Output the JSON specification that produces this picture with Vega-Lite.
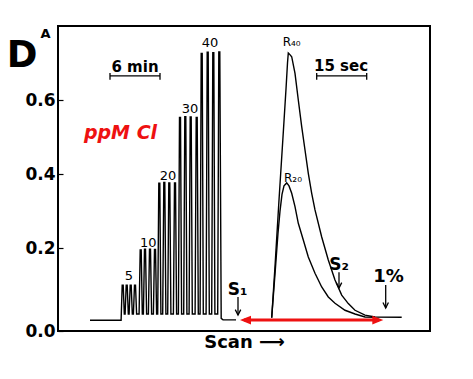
{
  "$schema": "https://vega.github.io/schema/vega-lite/v6.json",
  "width": 372,
  "height": 305,
  "autosize": {"type": "none"},
  "padding": {"left": 58, "top": 26, "right": 43, "bottom": 48},
  "background": "white",
  "config": {
    "view": {"stroke": "black", "strokeWidth": 2},
    "font": "DejaVu Sans"
  },
  "datasets": {
    "curves": [
      {"series": "calib", "x": 32, "y": 0.005},
      {"series": "calib", "x": 63.1, "y": 0.005},
      {"series": "calib", "x": 64.2, "y": 0.1},
      {"series": "calib", "x": 65.2, "y": 0.1},
      {"series": "calib", "x": 66.3, "y": 0.022},
      {"series": "calib", "x": 67.1, "y": 0.022},
      {"series": "calib", "x": 68.2, "y": 0.1},
      {"series": "calib", "x": 69.2, "y": 0.1},
      {"series": "calib", "x": 70.3, "y": 0.022},
      {"series": "calib", "x": 71.1, "y": 0.022},
      {"series": "calib", "x": 72.2, "y": 0.1},
      {"series": "calib", "x": 73.2, "y": 0.1},
      {"series": "calib", "x": 74.3, "y": 0.022},
      {"series": "calib", "x": 75.4, "y": 0.022},
      {"series": "calib", "x": 76.5, "y": 0.1},
      {"series": "calib", "x": 77.5, "y": 0.1},
      {"series": "calib", "x": 78.6, "y": 0.022},
      {"series": "calib", "x": 81.1, "y": 0.022},
      {"series": "calib", "x": 82.2, "y": 0.195},
      {"series": "calib", "x": 83.2, "y": 0.195},
      {"series": "calib", "x": 84.3, "y": 0.022},
      {"series": "calib", "x": 85.4, "y": 0.022},
      {"series": "calib", "x": 86.5, "y": 0.197},
      {"series": "calib", "x": 87.5, "y": 0.197},
      {"series": "calib", "x": 88.6, "y": 0.022},
      {"series": "calib", "x": 90.4, "y": 0.022},
      {"series": "calib", "x": 91.5, "y": 0.197},
      {"series": "calib", "x": 92.5, "y": 0.197},
      {"series": "calib", "x": 93.6, "y": 0.022},
      {"series": "calib", "x": 95.4, "y": 0.022},
      {"series": "calib", "x": 96.5, "y": 0.196},
      {"series": "calib", "x": 97.5, "y": 0.196},
      {"series": "calib", "x": 98.6, "y": 0.022},
      {"series": "calib", "x": 99.7, "y": 0.022},
      {"series": "calib", "x": 100.8, "y": 0.375},
      {"series": "calib", "x": 101.8, "y": 0.375},
      {"series": "calib", "x": 102.9, "y": 0.022},
      {"series": "calib", "x": 104.7, "y": 0.022},
      {"series": "calib", "x": 105.8, "y": 0.377},
      {"series": "calib", "x": 106.8, "y": 0.377},
      {"series": "calib", "x": 107.9, "y": 0.022},
      {"series": "calib", "x": 109.7, "y": 0.022},
      {"series": "calib", "x": 110.8, "y": 0.376},
      {"series": "calib", "x": 111.8, "y": 0.376},
      {"series": "calib", "x": 112.9, "y": 0.022},
      {"series": "calib", "x": 115.4, "y": 0.022},
      {"series": "calib", "x": 116.5, "y": 0.376},
      {"series": "calib", "x": 117.5, "y": 0.376},
      {"series": "calib", "x": 118.6, "y": 0.022},
      {"series": "calib", "x": 120.4, "y": 0.022},
      {"series": "calib", "x": 121.5, "y": 0.553},
      {"series": "calib", "x": 122.5, "y": 0.553},
      {"series": "calib", "x": 123.6, "y": 0.022},
      {"series": "calib", "x": 125.7, "y": 0.022},
      {"series": "calib", "x": 126.8, "y": 0.555},
      {"series": "calib", "x": 127.8, "y": 0.555},
      {"series": "calib", "x": 128.9, "y": 0.022},
      {"series": "calib", "x": 131.1, "y": 0.022},
      {"series": "calib", "x": 132.2, "y": 0.554},
      {"series": "calib", "x": 133.2, "y": 0.554},
      {"series": "calib", "x": 134.3, "y": 0.022},
      {"series": "calib", "x": 137.1, "y": 0.022},
      {"series": "calib", "x": 138.2, "y": 0.553},
      {"series": "calib", "x": 139.2, "y": 0.553},
      {"series": "calib", "x": 140.3, "y": 0.022},
      {"series": "calib", "x": 142.1, "y": 0.022},
      {"series": "calib", "x": 143.2, "y": 0.726},
      {"series": "calib", "x": 144.2, "y": 0.726},
      {"series": "calib", "x": 145.3, "y": 0.022},
      {"series": "calib", "x": 148.1, "y": 0.022},
      {"series": "calib", "x": 149.2, "y": 0.729},
      {"series": "calib", "x": 150.2, "y": 0.729},
      {"series": "calib", "x": 151.3, "y": 0.022},
      {"series": "calib", "x": 153.7, "y": 0.022},
      {"series": "calib", "x": 154.8, "y": 0.728},
      {"series": "calib", "x": 155.8, "y": 0.728},
      {"series": "calib", "x": 156.9, "y": 0.022},
      {"series": "calib", "x": 159.7, "y": 0.022},
      {"series": "calib", "x": 160.8, "y": 0.73},
      {"series": "calib", "x": 161.8, "y": 0.73},
      {"series": "calib", "x": 163.2, "y": 0.01},
      {"series": "calib", "x": 165, "y": 0.006},
      {"series": "calib", "x": 178, "y": 0.006},
      {"series": "R40", "x": 213.7, "y": 0.012},
      {"series": "R40", "x": 217, "y": 0.15},
      {"series": "R40", "x": 221, "y": 0.33},
      {"series": "R40", "x": 225, "y": 0.5},
      {"series": "R40", "x": 228, "y": 0.63},
      {"series": "R40", "x": 229.5, "y": 0.7},
      {"series": "R40", "x": 230.3, "y": 0.727},
      {"series": "R40", "x": 231.5, "y": 0.724},
      {"series": "R40", "x": 233.7, "y": 0.717},
      {"series": "R40", "x": 237, "y": 0.672},
      {"series": "R40", "x": 240.3, "y": 0.6},
      {"series": "R40", "x": 243.7, "y": 0.528},
      {"series": "R40", "x": 247, "y": 0.465},
      {"series": "R40", "x": 250.3, "y": 0.402},
      {"series": "R40", "x": 253.7, "y": 0.348},
      {"series": "R40", "x": 257, "y": 0.303},
      {"series": "R40", "x": 263.7, "y": 0.23},
      {"series": "R40", "x": 270.3, "y": 0.168},
      {"series": "R40", "x": 277, "y": 0.114},
      {"series": "R40", "x": 283.7, "y": 0.073},
      {"series": "R40", "x": 290.3, "y": 0.05},
      {"series": "R40", "x": 297, "y": 0.032},
      {"series": "R40", "x": 307, "y": 0.019},
      {"series": "R40", "x": 317, "y": 0.014},
      {"series": "R40", "x": 343.7, "y": 0.013},
      {"series": "R20", "x": 213.7, "y": 0.012},
      {"series": "R20", "x": 217, "y": 0.13},
      {"series": "R20", "x": 220, "y": 0.24},
      {"series": "R20", "x": 222, "y": 0.3},
      {"series": "R20", "x": 224, "y": 0.345},
      {"series": "R20", "x": 226, "y": 0.368},
      {"series": "R20", "x": 228.7, "y": 0.376},
      {"series": "R20", "x": 231, "y": 0.368},
      {"series": "R20", "x": 233.7, "y": 0.348},
      {"series": "R20", "x": 237, "y": 0.312},
      {"series": "R20", "x": 240.3, "y": 0.267},
      {"series": "R20", "x": 245.3, "y": 0.222},
      {"series": "R20", "x": 250.3, "y": 0.176},
      {"series": "R20", "x": 257, "y": 0.132},
      {"series": "R20", "x": 263.7, "y": 0.095},
      {"series": "R20", "x": 270.3, "y": 0.068},
      {"series": "R20", "x": 277, "y": 0.051},
      {"series": "R20", "x": 287, "y": 0.032},
      {"series": "R20", "x": 297, "y": 0.022},
      {"series": "R20", "x": 307, "y": 0.014},
      {"series": "R20", "x": 317, "y": 0.013}
    ],
    "rules": [
      {"x": 52, "x2": 102, "y": 0.665, "y2": 0.665},
      {"x": 52, "x2": 52, "y": 0.673, "y2": 0.655},
      {"x": 102, "x2": 102, "y": 0.673, "y2": 0.655},
      {"x": 258.7, "x2": 308.7, "y": 0.665, "y2": 0.665},
      {"x": 258.7, "x2": 258.7, "y": 0.673, "y2": 0.655},
      {"x": 308.7, "x2": 308.7, "y": 0.673, "y2": 0.655},
      {"x": 180, "x2": 180, "y": 0.068, "y2": 0.019},
      {"x": 281, "x2": 281, "y": 0.135, "y2": 0.092},
      {"x": 327.7, "x2": 327.7, "y": 0.1, "y2": 0.038}
    ],
    "heads": [
      {"x": 180, "y": 0.019},
      {"x": 281, "y": 0.092},
      {"x": 327.7, "y": 0.038}
    ],
    "redheads": [
      {"x": 182, "y": 0.0054, "dir": "left"},
      {"x": 325.3, "y": 0.0054, "dir": "right"}
    ],
    "numlabels": [
      {"x": 71, "y": 0.114, "t": "5", "s": 13},
      {"x": 90.3, "y": 0.203, "t": "10", "s": 13},
      {"x": 110, "y": 0.384, "t": "20", "s": 13},
      {"x": 132, "y": 0.565, "t": "30", "s": 13},
      {"x": 152, "y": 0.743, "t": "40", "s": 13},
      {"x": 233.7, "y": 0.746, "t": "R₄₀", "s": 12},
      {"x": 235, "y": 0.378, "t": "R₂₀", "s": 12}
    ],
    "boldlabels": [
      {"x": 77, "y": 0.676, "t": "6 min", "s": 15},
      {"x": 283, "y": 0.678, "t": "15 sec", "s": 15},
      {"x": 179.5, "y": 0.073, "t": "S₁", "s": 17},
      {"x": 281, "y": 0.141, "t": "S₂", "s": 17},
      {"x": 330.5, "y": 0.108, "t": "1%", "s": 18},
      {"x": -36, "y": 0.689, "t": "D", "s": 37}
    ],
    "redlabels": [
      {"x": 62.5, "y": 0.495, "t": "ppM Cl"}
    ]
  },
  "layer": [
    {
      "data": {"name": "curves"},
      "mark": {"type": "line", "color": "black", "strokeWidth": 1.4},
      "encoding": {
        "x": {
          "field": "x", "type": "quantitative",
          "scale": {"domain": [0, 372], "nice": false, "zero": false},
          "axis": {"labels": false, "ticks": false, "domain": false, "grid": false,
                   "title": "Scan ⟶", "titleFont": "DejaVu Sans", "titleFontSize": 18,
                   "titleFontWeight": "bold", "titleColor": "black", "titlePadding": 2}
        },
        "y": {
          "field": "y", "type": "quantitative",
          "scale": {"domain": [-0.024, 0.8], "nice": false, "zero": false},
          "axis": {
            "values": [-0.024, 0.2, 0.4, 0.6],
            "labelExpr": "datum.value < 0 ? '0.0' : format(datum.value, '.1f')",
            "labelFont": "DejaVu Sans", "labelFontSize": 17, "labelFontWeight": "bold",
            "labelColor": "black", "grid": false, "domain": false,
            "ticks": true, "tickSize": -5, "tickColor": "black", "tickWidth": 1.2,
            "labelPadding": 8,
            "title": "A", "titleAngle": 0, "titleX": -13, "titleY": 11,
            "titleAlign": "center", "titleBaseline": "alphabetic",
            "titleFont": "DejaVu Sans", "titleFontSize": 13, "titleFontWeight": "bold", "titleColor": "black"
          }
        },
        "detail": {"field": "series", "type": "nominal"}
      }
    },
    {
      "data": {"name": "rules"},
      "mark": {"type": "rule", "color": "black", "strokeWidth": 1.3},
      "encoding": {
        "x": {"field": "x", "type": "quantitative"},
        "x2": {"field": "x2"},
        "y": {"field": "y", "type": "quantitative"},
        "y2": {"field": "y2"}
      }
    },
    {
      "data": {"name": "heads"},
      "mark": {"type": "point", "shape": "M -1 -2 L 0 0 L 1 -2", "size": 30, "filled": false, "stroke": "black", "strokeWidth": 1.3, "opacity": 1},
      "encoding": {
        "x": {"field": "x", "type": "quantitative"},
        "y": {"field": "y", "type": "quantitative"}
      }
    },
    {
      "data": {"values": [{"x": 186, "x2": 321, "y": 0.0054}]},
      "mark": {"type": "rule", "color": "#ee1111", "strokeWidth": 3},
      "encoding": {
        "x": {"field": "x", "type": "quantitative"},
        "x2": {"field": "x2"},
        "y": {"field": "y", "type": "quantitative"}
      }
    },
    {
      "data": {"name": "redheads"},
      "mark": {"type": "point", "filled": true, "size": 121, "color": "#ee1111", "opacity": 1},
      "encoding": {
        "x": {"field": "x", "type": "quantitative"},
        "y": {"field": "y", "type": "quantitative"},
        "shape": {"field": "dir", "type": "nominal", "legend": null,
                  "scale": {"domain": ["left", "right"], "range": ["M 0 0 L 2 -0.8 L 2 0.8 Z", "M 0 0 L -2 -0.8 L -2 0.8 Z"]}}
      }
    },
    {
      "data": {"name": "numlabels"},
      "mark": {"type": "text", "font": "DejaVu Sans", "color": "black", "align": "center", "baseline": "alphabetic"},
      "encoding": {
        "x": {"field": "x", "type": "quantitative"},
        "y": {"field": "y", "type": "quantitative"},
        "text": {"field": "t"},
        "size": {"field": "s", "type": "quantitative", "scale": null}
      }
    },
    {
      "data": {"name": "boldlabels"},
      "mark": {"type": "text", "font": "DejaVu Sans", "fontWeight": "bold", "color": "black", "align": "center", "baseline": "alphabetic"},
      "encoding": {
        "x": {"field": "x", "type": "quantitative"},
        "y": {"field": "y", "type": "quantitative"},
        "text": {"field": "t"},
        "size": {"field": "s", "type": "quantitative", "scale": null}
      }
    },
    {
      "data": {"name": "redlabels"},
      "mark": {"type": "text", "font": "DejaVu Sans", "fontWeight": "bold", "fontStyle": "italic", "fontSize": 19, "color": "#ee1111", "align": "center", "baseline": "alphabetic"},
      "encoding": {
        "x": {"field": "x", "type": "quantitative"},
        "y": {"field": "y", "type": "quantitative"},
        "text": {"field": "t"}
      }
    }
  ]
}
